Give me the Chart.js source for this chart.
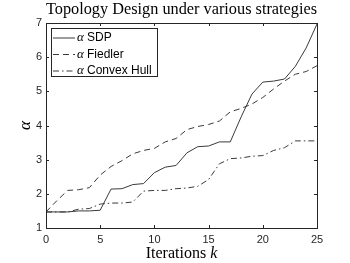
<!DOCTYPE html>
<html>
<head>
<meta charset="utf-8">
<script src="https://cdn.jsdelivr.net/npm/chart.js@4/dist/chart.umd.min.js"></script>
<style>
  html, body { margin: 0; padding: 0; background: #fff; }
  #wrap { width: 350px; height: 263px; }
</style>
</head>
<body>
<div id="wrap"><canvas id="chart" width="350" height="263"></canvas></div>
<script>
// iterations k
const iterations = [0, 1, 2, 3, 4, 5, 6, 7, 8, 9, 10, 11, 12, 13, 14, 15, 16, 17, 18, 19, 20, 21, 22, 23, 24, 25];

// alpha values per strategy
const sdpValues = [1.47, 1.47, 1.47, 1.50, 1.50, 1.52, 2.14, 2.15, 2.27, 2.30, 2.62, 2.78, 2.83, 3.20, 3.38, 3.40, 3.52, 3.52, 4.25, 4.92, 5.27, 5.30, 5.36, 5.73, 6.27, 6.97];
const fiedlerValues = [1.47, 1.80, 2.10, 2.12, 2.18, 2.55, 2.80, 2.97, 3.17, 3.27, 3.33, 3.52, 3.62, 3.88, 3.97, 4.03, 4.13, 4.40, 4.50, 4.63, 4.82, 5.07, 5.30, 5.50, 5.58, 5.75];
const hullValues = [1.47, 1.47, 1.47, 1.55, 1.57, 1.70, 1.73, 1.73, 1.76, 2.08, 2.10, 2.10, 2.15, 2.17, 2.22, 2.42, 2.88, 3.03, 3.05, 3.10, 3.12, 3.27, 3.35, 3.55, 3.55, 3.55];

const seriesNames = ['SDP', 'Fiedler', 'Convex Hull'];
const xTicks = [0, 5, 10, 15, 20, 25];
const yTicks = [1, 2, 3, 4, 5, 6, 7];

const lineColor = '#3a3a3a';
const axisColor = '#262626';

function toPoints(values) {
    return iterations.map((k, i) => ({ x: k, y: values[i] }));
}

// MATLAB-like box, inward ticks, title, axis labels and legend
const matlabFrame = {
    id: 'matlabFrame',
    afterDraw(chart) {
        const ctx = chart.ctx;
        const area = chart.chartArea;
        const xs = chart.scales.x;
        const ys = chart.scales.y;
        ctx.save();

        // box
        ctx.strokeStyle = axisColor;
        ctx.lineWidth = 1;
        ctx.setLineDash([]);
        ctx.strokeRect(area.left + 0.5, area.top + 0.5, area.right - area.left, area.bottom - area.top);

        // ticks pointing inward
        const len = 3;
        ctx.beginPath();
        xTicks.forEach(v => {
            const px = Math.round(xs.getPixelForValue(v)) + 0.5;
            ctx.moveTo(px, area.bottom);
            ctx.lineTo(px, area.bottom - len);
            ctx.moveTo(px, area.top);
            ctx.lineTo(px, area.top + len);
        });
        yTicks.forEach(v => {
            const py = Math.round(ys.getPixelForValue(v)) + 0.5;
            ctx.moveTo(area.left, py);
            ctx.lineTo(area.left + len, py);
            ctx.moveTo(area.right, py);
            ctx.lineTo(area.right - len, py);
        });
        ctx.stroke();

        // title
        const cx = (area.left + area.right) / 2;
        ctx.fillStyle = '#000';
        ctx.font = '16.3px "Liberation Serif"';
        ctx.textAlign = 'center';
        ctx.textBaseline = 'alphabetic';
        ctx.fillText('Topology Design under various strategies', cx, 14);

        // x label: "Iterations k" with italic k
        const partA = 'Iterations ';
        const partB = 'k';
        ctx.font = '16px "Liberation Serif"';
        const wA = ctx.measureText(partA).width;
        ctx.font = 'italic 16px "Liberation Serif"';
        const wB = ctx.measureText(partB).width;
        let startX = cx - (wA + wB) / 2;
        ctx.textAlign = 'left';
        ctx.font = '16px "Liberation Serif"';
        ctx.fillText(partA, startX, 258);
        ctx.font = 'italic 16px "Liberation Serif"';
        ctx.fillText(partB, startX + wA, 258);

        // y label: alpha
        ctx.save();
        ctx.translate(30, (area.top + area.bottom) / 2);
        ctx.rotate(-Math.PI / 2);
        ctx.textAlign = 'center';
        ctx.font = 'italic 17px "Liberation Serif"';
        ctx.fillText('\u03b1', 0, 0);
        ctx.restore();

        // legend
        const lx = 51, ly = 28, lw = 106, lh = 48;
        ctx.fillStyle = '#fff';
        ctx.fillRect(lx, ly, lw, lh);
        ctx.strokeStyle = axisColor;
        ctx.lineWidth = 1;
        ctx.strokeRect(lx + 0.5, ly + 0.5, lw, lh);
        chart.data.datasets.forEach((ds, i) => {
            const rowY = 38 + i * 16.5;
            ctx.strokeStyle = ds.borderColor;
            ctx.lineWidth = ds.borderWidth;
            ctx.setLineDash(ds.borderDash || []);
            ctx.beginPath();
            ctx.moveTo(53, rowY);
            ctx.lineTo(75, rowY);
            ctx.stroke();
            ctx.setLineDash([]);
            ctx.fillStyle = '#000';
            ctx.textBaseline = 'middle';
            ctx.textAlign = 'left';
            ctx.font = 'italic 13px "Liberation Serif"';
            ctx.fillText('\u03b1', 77, rowY);
            ctx.font = '12px "Liberation Sans"';
            ctx.fillText(seriesNames[i], 87, rowY);
        });

        ctx.restore();
    }
};

new Chart(document.getElementById('chart').getContext('2d'), {
    type: 'line',
    data: {
        datasets: [
            {
                label: '\u03b1 ' + seriesNames[0],
                data: toPoints(sdpValues),
                borderColor: lineColor,
                borderWidth: 1,
                pointRadius: 0,
                tension: 0
            },
            {
                label: '\u03b1 ' + seriesNames[1],
                data: toPoints(fiedlerValues),
                borderColor: lineColor,
                borderWidth: 1,
                borderDash: [6, 4],
                pointRadius: 0,
                tension: 0
            },
            {
                label: '\u03b1 ' + seriesNames[2],
                data: toPoints(hullValues),
                borderColor: lineColor,
                borderWidth: 1,
                borderDash: [6, 3, 1.5, 3],
                pointRadius: 0,
                tension: 0
            }
        ]
    },
    options: {
        responsive: false,
        animation: false,
        layout: { padding: { left: 0, top: 23, right: 33, bottom: 0 } },
        plugins: {
            legend: { display: false },
            title: { display: false },
            tooltip: { enabled: false }
        },
        scales: {
            x: {
                type: 'linear',
                min: 0,
                max: 25,
                grid: { display: false, drawTicks: false },
                border: { display: false },
                afterBuildTicks: (scale) => { scale.ticks = xTicks.map(v => ({ value: v })); },
                afterFit: (scale) => { scale.height = 35; },
                ticks: {
                    color: axisColor,
                    font: { family: '"Liberation Sans"', size: 11 },
                    padding: 5,
                    maxRotation: 0
                }
            },
            y: {
                min: 1,
                max: 7,
                grid: { display: false, drawTicks: false },
                border: { display: false },
                afterBuildTicks: (scale) => { scale.ticks = yTicks.map(v => ({ value: v })); },
                afterFit: (scale) => { scale.width = 46; },
                ticks: {
                    color: axisColor,
                    font: { family: '"Liberation Sans"', size: 11 },
                    padding: 4
                }
            }
        }
    },
    plugins: [matlabFrame]
});
</script>
</body>
</html>
